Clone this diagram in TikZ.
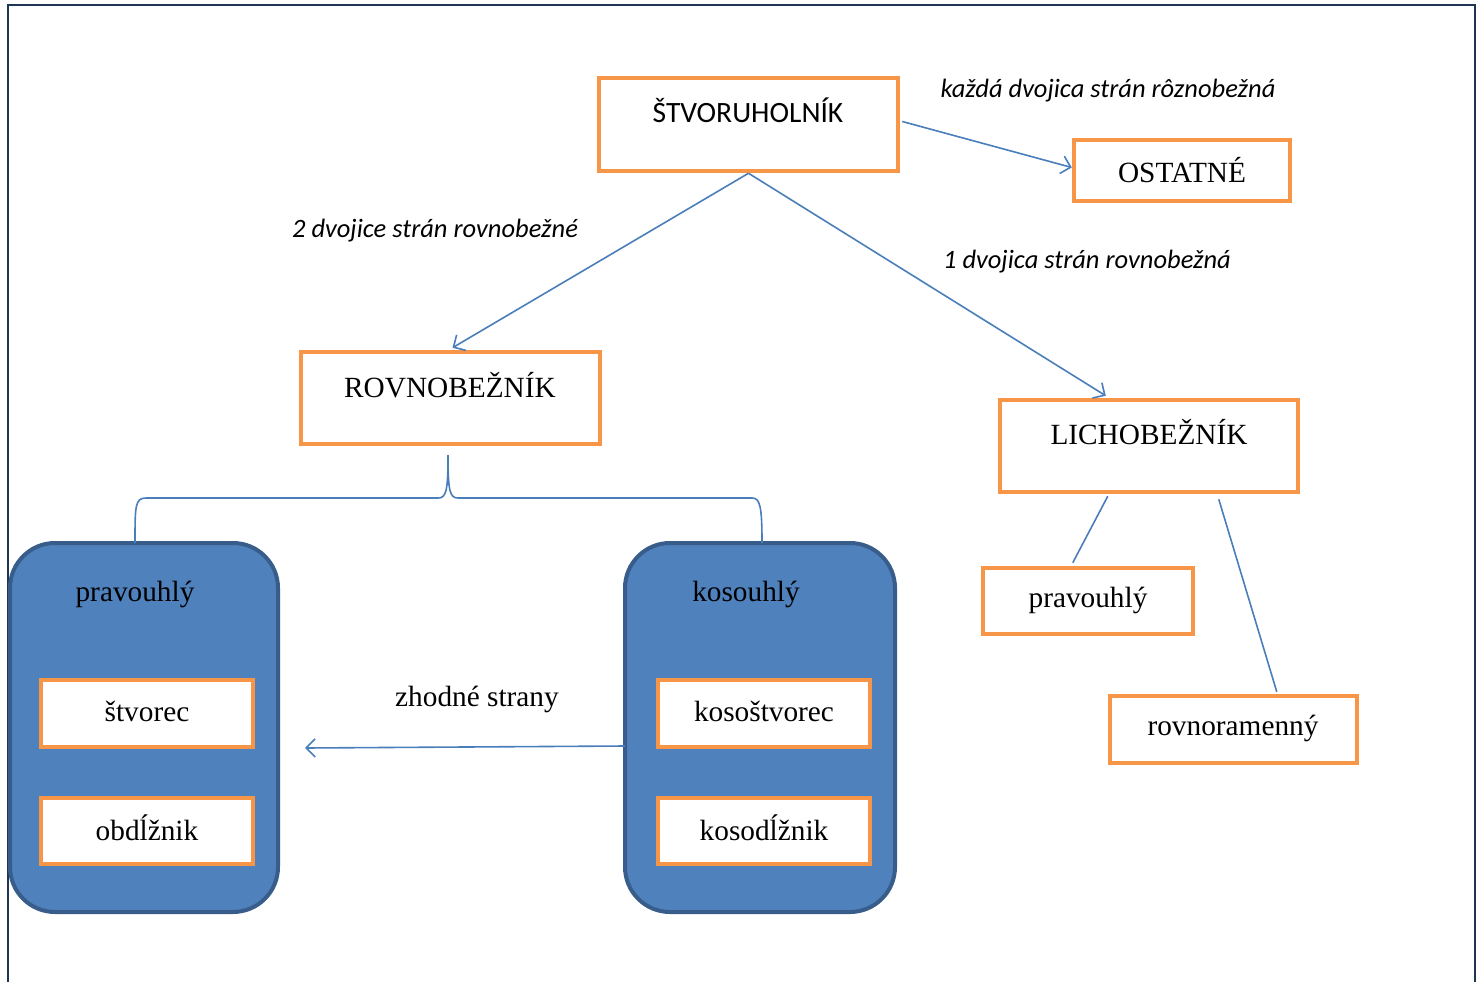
\documentclass[tikz,border=0pt]{standalone}
\usepackage{fontspec}
\setmainfont{Liberation Serif}
\newfontfamily\calibri{Carlito}
\usetikzlibrary{arrows.meta,calc}
\definecolor{orangeb}{HTML}{F79646}
\definecolor{bluefill}{HTML}{4F81BD}
\definecolor{blueedge}{HTML}{385D8A}
\definecolor{conncol}{HTML}{4A7EBB}
\definecolor{framecol}{HTML}{1F3556}
\tikzset{
  obox/.style={draw=orangeb, line width=4.5pt, fill=white, inner sep=0pt},
  bbox/.style={draw=blueedge, line width=4pt, fill=bluefill, rounded corners=45pt},
  conn/.style={draw=conncol, line width=1.6pt},
  arr/.style={conn, -{Straight Barb[length=9pt,width=18pt,line width=1.6pt]}},
  serif/.style={font=\fontsize{29.3}{32}\selectfont, inner sep=0pt},
  sanst/.style={font=\calibri\fontsize{29.5}{32}\selectfont, inner sep=0pt},
  lbl/.style={font=\calibri\itshape\fontsize{26.5}{29}\selectfont, inner sep=0pt},
}
\begin{document}
\begin{tikzpicture}[x=1pt,y=-1pt]
\useasboundingbox (0,0) rectangle (1483,982);
% frame
\draw[framecol, line width=2pt] (8,982) -- (8,5) -- (1475,5) -- (1475,982);

% orange boxes
\node[obox, minimum width=299pt, minimum height=93pt] (stv) at (748.5,124.5) {};
\node[sanst] (stvt) at (748,110) {ŠTVORUHOLNÍK};
\node[obox, minimum width=216pt, minimum height=61pt] (ost) at (1182,170.5) {};
\node[serif] (ostt) at (1182,170) {OSTATNÉ};
\node[obox, minimum width=299pt, minimum height=92pt] (rov) at (450.5,398) {};
\node[serif] (rovt) at (450,385) {ROVNOBEŽNÍK};
\node[obox, minimum width=298pt, minimum height=92pt] (lich) at (1149,446) {};
\node[serif] (licht) at (1149,432) {LICHOBEŽNÍK};
\node[obox, minimum width=210pt, minimum height=66pt] (lpr) at (1088,601) {};
\node[serif] (lprt) at (1088,600) {pravouhlý};
\node[obox, minimum width=247pt, minimum height=67pt] (lrr) at (1233.5,729.5) {};
\node[serif] (lrrt) at (1233,728) {rovnoramenný};

% blue groups
\draw[bbox] (10,543) rectangle (278,912);
\node[serif] (pravt) at (135,594) {pravouhlý};
\draw[bbox] (625,543) rectangle (895,912);
\node[serif] (kost) at (746,594) {kosouhlý};

\node[obox, minimum width=212pt, minimum height=67pt] (stc) at (147,713.5) {};
\node[serif] (stct) at (147,711) {štvorec};
\node[obox, minimum width=212pt, minimum height=66pt] (obd) at (147,831) {};
\node[serif] (obdt) at (147,828) {obdĺžnik};
\node[obox, minimum width=212pt, minimum height=67pt] (kst) at (764,713.5) {};
\node[serif] (kstt) at (764,711) {kosoštvorec};
\node[obox, minimum width=212pt, minimum height=66pt] (ksd) at (764,831) {};
\node[serif] (ksdt) at (764,828) {kosodĺžnik};

% labels
\node[lbl] (l1) at (1108,91) {každá dvojica strán rôznobežná};
\node[lbl] (l2) at (435,231) {2 dvojice strán rovnobežné};
\node[lbl] (l3) at (1087,262) {1 dvojica strán rovnobežná};
\node[serif] (l4) at (477,699) {zhodné strany};

% connectors
\draw[arr] ($(stv.east)+(2,-3)$) -- ($(ost.west)+(0,-3)$);
\draw[arr] (stv.south) -- ($(rov.north)+(2,-2)$);
\draw[arr] (stv.south) -- ($(lich.north west)+(108,-2)$);
\coordinate (kleft) at (625,746);
\draw[arr] (kleft) -- (305,748);

% brace
\coordinate (bt) at (448,455);
\draw[conn] (135,543) .. controls (135,506) and (135,498) .. (146,498) -- (438,498) .. controls (446,498) and (448,492) .. (bt);
\draw[conn] (bt) .. controls (448,492) and (450,498) .. (458,498) -- (752,498) .. controls (760,498) and (762,506) .. (762,543);

% trapezoid lines
\draw[conn] ($(lich.south west)+(110,2)$) -- ($(lpr.north west)+(92,-3)$);
\draw[conn] ($(lich.south west)+(221,5)$) -- ($(lrr.north west)+(169,-2)$);
\end{tikzpicture}
\end{document}
